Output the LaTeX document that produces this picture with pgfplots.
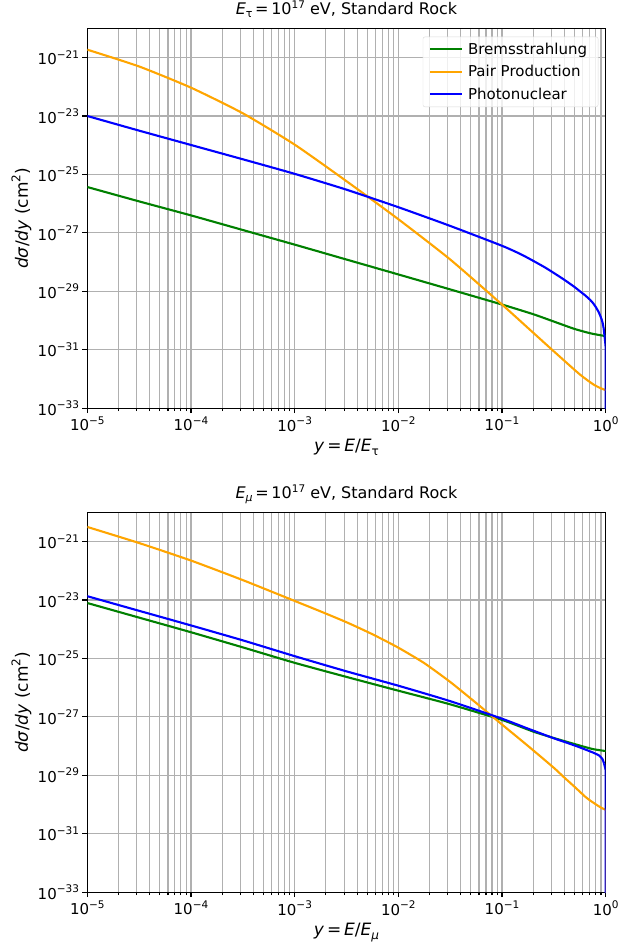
\documentclass[border=0pt]{standalone}
\usepackage{fontspec}
\setmainfont{DejaVu Sans}
\usepackage{pgfplots}
\pgfplotsset{compat=1.18}
\definecolor{mgreen}{HTML}{008000}
\definecolor{morange}{HTML}{FFA500}
\definecolor{mblue}{HTML}{0000FF}
\definecolor{gridgray}{HTML}{B0B0B0}
\newcommand\F{\fontsize{15}{18}\selectfont}
\newcommand\FT{\fontsize{16}{19}\selectfont}
\newcommand\FL{\fontsize{17}{20}\selectfont}
\newcommand\sups[1]{\raisebox{6.6pt}{\fontsize{10.5}{12}\selectfont #1}}
\newcommand\supl[1]{\raisebox{7.4pt}{\fontsize{12}{14}\selectfont #1}}
\newcommand\subs[1]{\raisebox{-3pt}{\fontsize{11}{13}\selectfont #1}}
\newcommand\subl[1]{\raisebox{-3.4pt}{\fontsize{12}{14}\selectfont #1}}
\pgfplotsset{
    width=518.4pt, height=380pt, scale only axis,
    xmin=1e-5, xmax=1, ymin=1e-33, ymax=1e-20,
    xtick={1e-5,1e-4,1e-3,1e-2,1e-1,1},
    xticklabels={10\sups{−5},10\sups{−4},10\sups{−3},10\sups{−2},10\sups{−1},10\sups{0}},
    minor xtick={2e-5,3e-5,4e-5,5e-5,6e-5,7e-5,8e-5,9e-5,
                 2e-4,3e-4,4e-4,5e-4,6e-4,7e-4,8e-4,9e-4,
                 2e-3,3e-3,4e-3,5e-3,6e-3,7e-3,8e-3,9e-3,
                 2e-2,3e-2,4e-2,5e-2,6e-2,7e-2,8e-2,9e-2,
                 0.2,0.3,0.4,0.5,0.6,0.7,0.8,0.9},
    ytick={1e-33,1e-31,1e-29,1e-27,1e-25,1e-23,1e-21},
    yticklabels={10\sups{−33},10\sups{−31},10\sups{−29},10\sups{−27},10\sups{−25},10\sups{−23},10\sups{−21}},
    xmajorgrids, xminorgrids, ymajorgrids,
    grid style={gridgray, line width=1.1pt},
    minor grid style={gridgray, line width=1.1pt},
    axis line style={line width=1.1pt},
    tick style={line width=1.1pt, black},
    major tick length=4.8pt, minor tick length=2.8pt,
    tick align=outside, xtick pos=bottom, ytick pos=left,
    tick label style={font=\F},
    every axis label/.append style={font=\FL},
    title style={font=\FT, at={(0.5,1)}, anchor=base, yshift=7.6pt},
    xlabel style={at={(axis description cs:0.5,0)}, anchor=base, yshift=-43.5pt},
    ylabel style={at={(axis description cs:-0.127,0.5)}, anchor=center},
    ylabel={\textit{dσ}/\textit{dy} (cm\supl{2})},
    every axis plot/.append style={line width=2.1pt, no markers},
    legend cell align=left,
    legend style={at={(1,1)}, anchor=north east, xshift=-7.4pt, yshift=-8.4pt,
      draw=black!15, rounded corners=2pt, fill=white, fill opacity=0.8, text opacity=1,
      font=\F, row sep=5.6pt, inner xsep=6pt, inner ysep=4pt,
      nodes={inner xsep=5pt}},
    legend image code/.code={\draw[#1] (-2pt,0pt) -- (30pt,0pt);},
}
\begin{document}
\begin{tikzpicture}
\path[use as bounding box] (-87.3pt,28.3pt) rectangle (531.7pt,-913.7pt);
\begin{loglogaxis}[at={(0pt,0pt)}, anchor=north west, yminorticks=false,
  title={\textit{E}\subs{τ}\,=\,10\sups{17} eV, Standard Rock},
  xlabel={\textit{y}\,=\,\textit{E}/\textit{E}\subl{τ}}]
\addplot[mgreen, smooth, tension=0.35] coordinates {(1e-5,3.72e-26) (3.16e-5,1.2e-26) (1e-4,3.98e-27)
  (3.16e-4,1.26e-27) (1e-3,3.98e-28) (3.16e-3,1.23e-28) (1e-2,3.8e-29) (3.16e-2,1.17e-29)
  (0.1,3.55e-30) (0.2,1.66e-30) (0.316,9.3e-31) (0.5,5.2e-31) (0.708,3.7e-31)
  (0.891,3.16e-31) (1,2.95e-31)};
\addlegendentry{Bremsstrahlung}
\addplot[morange, smooth, tension=0.35] coordinates {(1e-5,1.86e-21) (3.16e-5,4.95e-22) (1e-4,9.33e-23)
  (3.16e-4,1.24e-23) (1e-3,1.05e-24) (3.16e-3,5.9e-26) (1e-2,2.95e-27) (3.16e-2,1.24e-28)
  (0.1,3.55e-30) (0.178,5.6e-31) (0.316,8.9e-32) (0.562,1.45e-32) (0.759,6.6e-33)
  (0.891,4.9e-33) (1,4.2e-33)};
\addlegendentry{Pair Production}
\addplot[mblue, smooth, tension=0.35] coordinates {(1e-5,1e-23) (3.16e-5,3.16e-24) (1e-4,1.02e-24)
  (3.16e-4,3.31e-25) (1e-3,1.05e-25) (3.16e-3,3.02e-26) (1e-2,7.59e-27) (3.16e-2,1.74e-27)
  (0.1,3.63e-28) (0.158,1.74e-28) (0.251,7.08e-29) (0.316,4.27e-29) (0.398,2.51e-29)
  (0.501,1.41e-29) (0.562,1.02e-29) (0.631,7.41e-30) (0.708,5.13e-30) (0.759,3.89e-30)
  (0.794,3.09e-30) (0.851,2.04e-30) (0.879,1.58e-30) (0.912,1.12e-30) (0.933,8.5e-31)
  (0.955,5.5e-31) (0.977,2.8e-31)};
\addlegendentry{Photonuclear}
\addplot[mblue, forget plot] coordinates {(0.977,2.8e-31) (1,1.2e-31) (1,1e-34)};
\end{loglogaxis}
\begin{loglogaxis}[at={(0pt,-484pt)}, anchor=north west, yminorticks=false,
  title={\textit{E}\subs{\textit{μ}}\,=\,10\sups{17} eV, Standard Rock},
  xlabel={\textit{y}\,=\,\textit{E}/\textit{E}\subl{\textit{μ}}}]
\addplot[mgreen, smooth, tension=0.35] coordinates {(1e-5,7.9e-24) (3.16e-5,2.5e-24) (1e-4,7.9e-25)
  (3.16e-4,2.4e-25) (1e-3,7.1e-26) (3.16e-3,2.34e-26) (1e-2,7.9e-27) (3.16e-2,2.7e-27)
  (0.1,7.9e-28) (0.2,3.16e-28) (0.316,1.9e-28) (0.562,1.05e-28) (0.759,7.9e-29) (1,6.8e-29)};
\addplot[morange, smooth, tension=0.35] coordinates {(1e-5,3.16e-21) (3.16e-5,8.9e-22) (1e-4,2.24e-22)
  (3.16e-4,4.8e-23) (1e-3,9.3e-24) (1.78e-3,4.07e-24) (3.16e-3,1.74e-24) (5.62e-3,6.76e-25)
  (1e-2,2.34e-25) (1.78e-2,6.92e-26) (3.16e-2,1.58e-26) (5.62e-2,3.02e-27) (0.1,5.5e-28)
  (0.178,1.02e-28) (0.316,1.82e-29) (0.398,8.5e-30) (0.501,4.07e-30) (0.631,1.9e-30)
  (0.708,1.38e-30) (0.794,1.05e-30) (0.891,8.1e-31) (1,6.6e-31)};
\addplot[mblue, smooth, tension=0.35] coordinates {(1e-5,1.35e-23) (3.16e-5,4.27e-24) (1e-4,1.35e-24)
  (3.16e-4,4.17e-25) (1e-3,1.2e-25) (3.16e-3,3.63e-26) (1e-2,1.17e-26) (3.16e-2,3.47e-27)
  (0.1,8.7e-28) (0.178,3.98e-28) (0.316,1.86e-28) (0.42,1.32e-28) (0.562,9.1e-29) (0.759,6.0e-29)
  (0.871,4.7e-29) (0.933,3.55e-29) (0.966,2.5e-29)};
\addplot[morange, forget plot] coordinates {(1,6.6e-31) (1,1e-34)};
\addplot[mblue, forget plot] coordinates {(0.966,2.5e-29) (1,1.5e-29) (1,1e-34)};
\end{loglogaxis}
\end{tikzpicture}
\end{document}
